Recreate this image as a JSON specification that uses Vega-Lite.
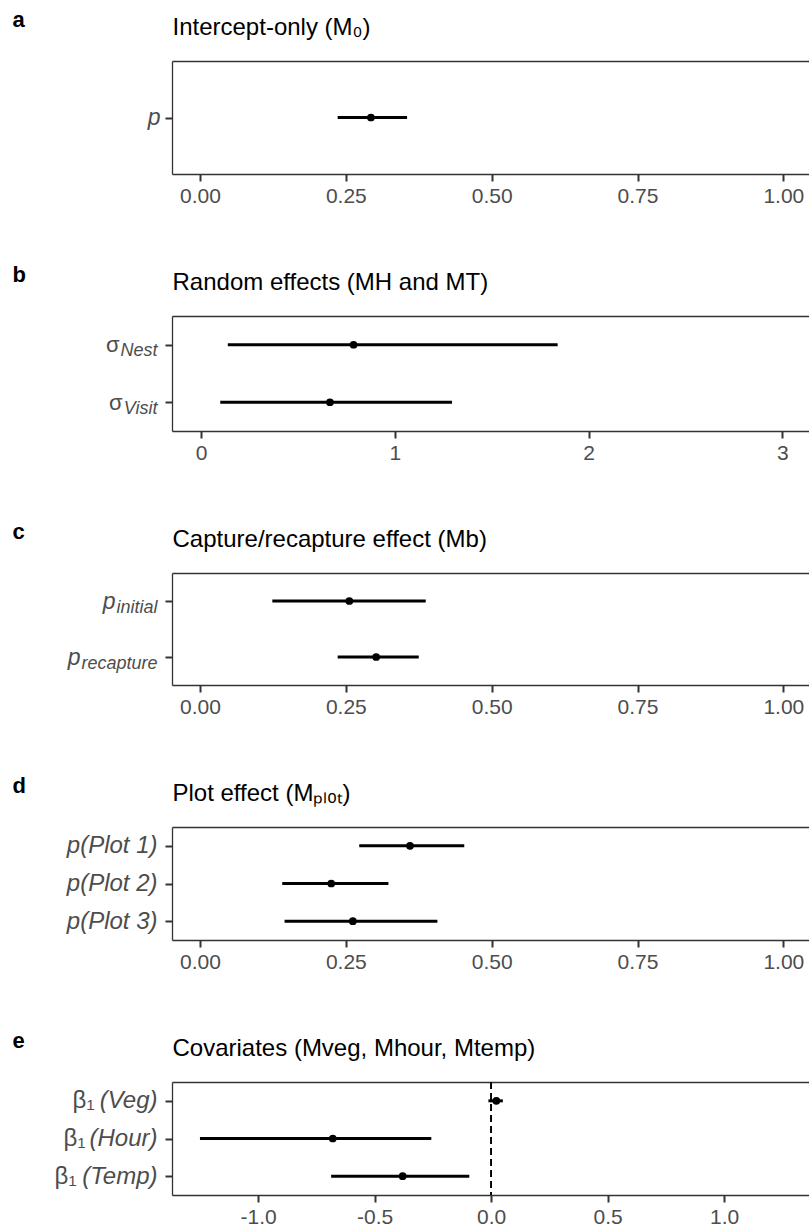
{
  "$schema": "https://vega.github.io/schema/vega-lite/v6.json",
  "background": "white",
  "padding": {"left": 12, "top": 8, "right": 0, "bottom": 0},
  "spacing": 57,
  "config": {
    "font": "Liberation Sans",
    "view": {"stroke": null},
    "axis": {
      "grid": false,
      "domainColor": "#333333",
      "domainWidth": 1.3,
      "tickColor": "#333333",
      "tickWidth": 2,
      "tickSize": 7,
      "labelFont": "Liberation Sans",
      "labelFontSize": 21,
      "labelColor": "#4d4d4d",
      "titleFont": "Liberation Sans",
      "titleColor": "black",
      "titleFontWeight": "normal"
    }
  },
  "vconcat": [
    {
      "width": 637,
      "height": 113,
      "data": {"values": [{"param": "p", "mean": 0.293, "lo": 0.236, "hi": 0.355}]},
      "layer": [
        {
          "mark": {"type": "rule", "strokeWidth": 3, "color": "black"},
          "encoding": {
            "x": {"field": "lo", "type": "quantitative", "scale": {"domain": [-0.048, 1.044], "nice": false, "zero": false},
              "axis": {"orient": "bottom", "values": [0, 0.25, 0.5, 0.75, 1], "format": ".2f", "title": null, "labelPadding": 4}},
            "x2": {"field": "hi"},
            "y": {"field": "param", "type": "nominal", "sort": null, "scale": {"type": "point", "padding": 0.5},
              "axis": {"orient": "left", "title": "a", "titleAngle": 0, "titleX": -160, "titleY": -35, "titleAlign": "left", "titleBaseline": "alphabetic", "titleFontWeight": "bold", "titleFontSize": 22, "labelFontStyle": "italic", "labelFontSize": 23, "labelPadding": 5}}
          }
        },
        {
          "mark": {"type": "point", "filled": true, "size": 60, "color": "black", "opacity": 1},
          "encoding": {
            "x": {"field": "mean", "type": "quantitative", "scale": {"domain": [-0.048, 1.044], "nice": false, "zero": false},
              "axis": {"orient": "top", "labels": false, "ticks": false, "title": "Intercept-only (M₀)", "titleX": 0, "titleY": -27, "titleAlign": "left", "titleBaseline": "alphabetic", "titleFontSize": 24, "titleAngle": 0}},
            "y": {"field": "param", "type": "nominal", "sort": null, "axis": null}
          }
        }
      ],
      "resolve": {"axis": {"x": "independent", "y": "independent"}}
    },
    {
      "width": 637,
      "height": 115,
      "data": {"values": [
        {"param": "Nest", "mean": 0.787, "lo": 0.138, "hi": 1.84},
        {"param": "Visit", "mean": 0.665, "lo": 0.099, "hi": 1.295}
      ]},
      "layer": [
        {
          "mark": {"type": "rule", "strokeWidth": 3, "color": "black"},
          "encoding": {
            "x": {"field": "lo", "type": "quantitative", "scale": {"domain": [-0.15, 3.137], "nice": false, "zero": false},
              "axis": {"orient": "bottom", "values": [0, 1, 2, 3], "format": "d", "title": null, "labelPadding": 4}},
            "x2": {"field": "hi"},
            "y": {"field": "param", "type": "nominal", "sort": null, "scale": {"type": "point", "padding": 0.5},
              "axis": {"orient": "left", "title": "b", "titleAngle": 0, "titleX": -160, "titleY": -35, "titleAlign": "left", "titleBaseline": "alphabetic", "titleFontWeight": "bold", "titleFontSize": 22, "labelExpr": "'σ'", "labelFontSize": 22,
                "labelPadding": {"condition": {"test": "datum.value === 'Nest'", "value": 46}, "value": 43}}}
          }
        },
        {
          "mark": {"type": "point", "filled": true, "size": 60, "color": "black", "opacity": 1},
          "encoding": {
            "x": {"field": "mean", "type": "quantitative", "scale": {"domain": [-0.15, 3.137], "nice": false, "zero": false},
              "axis": {"orient": "top", "labels": false, "ticks": false, "title": "Random effects (MH and MT)", "titleX": 0, "titleY": -27, "titleAlign": "left", "titleBaseline": "alphabetic", "titleFontSize": 24, "titleAngle": 0}},
            "y": {"field": "param", "type": "nominal", "sort": null,
              "axis": {"orient": "left", "title": null, "domain": false, "ticks": false, "labelFontSize": 18, "labelFontStyle": "italic", "labelOffset": 6, "labelPadding": 15}}
          }
        }
      ],
      "resolve": {"axis": {"x": "independent", "y": "independent"}}
    },
    {
      "width": 637,
      "height": 112,
      "data": {"values": [
        {"param": "initial", "mean": 0.256, "lo": 0.124, "hi": 0.387},
        {"param": "recapture", "mean": 0.302, "lo": 0.236, "hi": 0.375}
      ]},
      "layer": [
        {
          "mark": {"type": "rule", "strokeWidth": 3, "color": "black"},
          "encoding": {
            "x": {"field": "lo", "type": "quantitative", "scale": {"domain": [-0.048, 1.044], "nice": false, "zero": false},
              "axis": {"orient": "bottom", "values": [0, 0.25, 0.5, 0.75, 1], "format": ".2f", "title": null, "labelPadding": 4}},
            "x2": {"field": "hi"},
            "y": {"field": "param", "type": "nominal", "sort": null, "scale": {"type": "point", "padding": 0.5},
              "axis": {"orient": "left", "title": "c", "titleAngle": 0, "titleX": -160, "titleY": -35, "titleAlign": "left", "titleBaseline": "alphabetic", "titleFontWeight": "bold", "titleFontSize": 22, "labelExpr": "'p'", "labelFontStyle": "italic", "labelFontSize": 23,
                "labelPadding": {"condition": {"test": "datum.value === 'initial'", "value": 50}, "value": 85}}}
          }
        },
        {
          "mark": {"type": "point", "filled": true, "size": 60, "color": "black", "opacity": 1},
          "encoding": {
            "x": {"field": "mean", "type": "quantitative", "scale": {"domain": [-0.048, 1.044], "nice": false, "zero": false},
              "axis": {"orient": "top", "labels": false, "ticks": false, "title": "Capture/recapture effect (Mb)", "titleX": 0, "titleY": -27, "titleAlign": "left", "titleBaseline": "alphabetic", "titleFontSize": 24, "titleAngle": 0}},
            "y": {"field": "param", "type": "nominal", "sort": null,
              "axis": {"orient": "left", "title": null, "domain": false, "ticks": false, "labelFontSize": 18, "labelFontStyle": "italic", "labelOffset": 6, "labelPadding": 15}}
          }
        }
      ],
      "resolve": {"axis": {"x": "independent", "y": "independent"}}
    },
    {
      "width": 637,
      "height": 113,
      "data": {"values": [
        {"param": "p(Plot 1)", "mean": 0.36, "lo": 0.273, "hi": 0.453},
        {"param": "p(Plot 2)", "mean": 0.225, "lo": 0.141, "hi": 0.323},
        {"param": "p(Plot 3)", "mean": 0.262, "lo": 0.145, "hi": 0.407}
      ]},
      "layer": [
        {
          "mark": {"type": "rule", "strokeWidth": 3, "color": "black"},
          "encoding": {
            "x": {"field": "lo", "type": "quantitative", "scale": {"domain": [-0.048, 1.044], "nice": false, "zero": false},
              "axis": {"orient": "bottom", "values": [0, 0.25, 0.5, 0.75, 1], "format": ".2f", "title": null, "labelPadding": 4}},
            "x2": {"field": "hi"},
            "y": {"field": "param", "type": "nominal", "sort": null, "scale": {"type": "point", "padding": 0.5},
              "axis": {"orient": "left", "title": "d", "titleAngle": 0, "titleX": -160, "titleY": -35, "titleAlign": "left", "titleBaseline": "alphabetic", "titleFontWeight": "bold", "titleFontSize": 22, "labelFontStyle": "italic", "labelFontSize": 24, "labelPadding": 8}}
          }
        },
        {
          "mark": {"type": "point", "filled": true, "size": 60, "color": "black", "opacity": 1},
          "encoding": {
            "x": {"field": "mean", "type": "quantitative", "scale": {"domain": [-0.048, 1.044], "nice": false, "zero": false},
              "axis": {"orient": "top", "labels": false, "ticks": false, "title": "Plot effect (Mₚₗₒₜ)", "titleX": 0, "titleY": -27, "titleAlign": "left", "titleBaseline": "alphabetic", "titleFontSize": 24, "titleAngle": 0}},
            "y": {"field": "param", "type": "nominal", "sort": null, "axis": null}
          }
        }
      ],
      "resolve": {"axis": {"x": "independent", "y": "independent"}}
    },
    {
      "width": 637,
      "height": 113,
      "data": {"values": [
        {"param": "Veg", "mean": 0.022, "lo": -0.012, "hi": 0.05},
        {"param": "Hour", "mean": -0.68, "lo": -1.25, "hi": -0.257},
        {"param": "Temp", "mean": -0.38, "lo": -0.687, "hi": -0.094}
      ]},
      "layer": [
        {
          "mark": {"type": "rule", "strokeWidth": 1.6, "strokeDash": [7, 4], "color": "black"},
          "encoding": {
            "x": {"datum": 0, "type": "quantitative", "scale": {"domain": [-1.37, 1.364], "nice": false, "zero": false}, "axis": null}
          }
        },
        {
          "mark": {"type": "rule", "strokeWidth": 3, "color": "black"},
          "encoding": {
            "x": {"field": "lo", "type": "quantitative", "scale": {"domain": [-1.37, 1.364], "nice": false, "zero": false},
              "axis": {"orient": "bottom", "values": [-1, -0.5, 0, 0.5, 1], "labelExpr": "datum.value < 0 ? '-' + format(-datum.value, '.1f') : format(datum.value, '.1f')", "title": null, "labelPadding": 4}},
            "x2": {"field": "hi"},
            "y": {"field": "param", "type": "nominal", "sort": null, "scale": {"type": "point", "padding": 0.5},
              "axis": {"orient": "left", "title": "e", "titleAngle": 0, "titleX": -160, "titleY": -35, "titleAlign": "left", "titleBaseline": "alphabetic", "titleFontWeight": "bold", "titleFontSize": 22, "labelExpr": "'β₁'", "labelFontSize": 24,
                "labelPadding": {"condition": [{"test": "datum.value === 'Veg'", "value": 71}, {"test": "datum.value === 'Hour'", "value": 80}], "value": 89}}}
          }
        },
        {
          "mark": {"type": "point", "filled": true, "size": 60, "color": "black", "opacity": 1},
          "encoding": {
            "x": {"field": "mean", "type": "quantitative", "scale": {"domain": [-1.37, 1.364], "nice": false, "zero": false},
              "axis": {"orient": "top", "labels": false, "ticks": false, "title": "Covariates (Mveg, Mhour, Mtemp)", "titleX": 0, "titleY": -27, "titleAlign": "left", "titleBaseline": "alphabetic", "titleFontSize": 24, "titleAngle": 0}},
            "y": {"field": "param", "type": "nominal", "sort": null,
              "axis": {"orient": "left", "title": null, "domain": false, "ticks": false, "labelExpr": "'(' + datum.label + ')'", "labelFontSize": 24, "labelFontStyle": "italic", "labelPadding": 15}}
          }
        }
      ],
      "resolve": {"axis": {"x": "independent", "y": "independent"}}
    }
  ]
}
